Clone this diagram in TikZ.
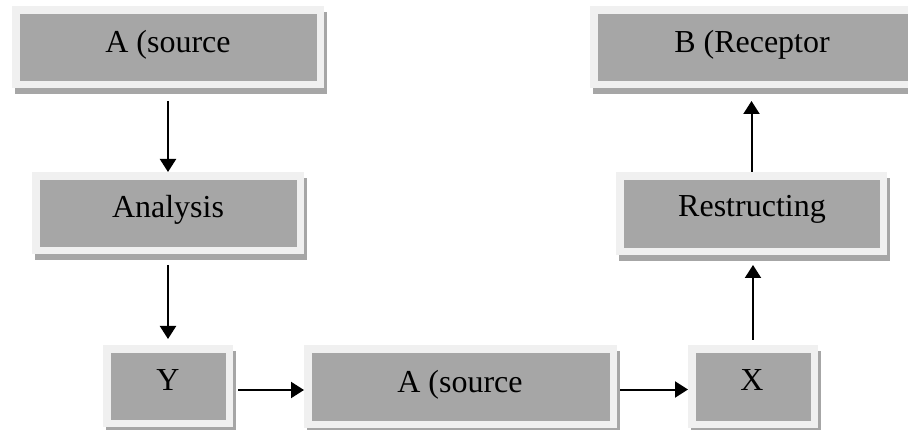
\documentclass[tikz,border=0pt]{standalone}
\usepackage{fontspec}
\setmainfont{Liberation Serif}
\usetikzlibrary{arrows.meta}
\definecolor{boxout}{HTML}{F0F0F0}
\definecolor{boxin}{HTML}{A6A6A6}
\definecolor{boxshadow}{HTML}{A6A6A6}
\tikzset{
  outerbox/.style={fill=boxout, inner sep=0pt, outer sep=0pt, draw=none},
  lbl/.style={font=\fontsize{32}{38}\selectfont, inner sep=0pt, anchor=base, text=black},
  arr/.style={-{Triangle[width=16pt,length=13pt]}, line width=2pt, black},
}
% name, x1, y1, x2, y2
\newcommand\mybox[5]{%
  \fill[boxshadow] (#2+3,#3+6) rectangle (#4+3,#5+6);
  \node[outerbox, minimum width={#4pt-#2pt}, minimum height={#5pt-#3pt}] (#1) at ({(#2+#4)/2},{(#3+#5)/2}) {};
  \fill[boxin] ([xshift=8pt,yshift=-8pt]#1.north west) rectangle ([xshift=-7pt,yshift=7pt]#1.south east);
}
\begin{document}
\begin{tikzpicture}[x=1pt,y=-1pt]
\useasboundingbox[fill=white] (0,0) rectangle (908,430);
\mybox{srcA}{12}{6}{324}{88}
\node[lbl] (srcA-t) at (168,53) {A (source};
\mybox{recB}{590}{6}{915}{88}
\node[lbl] (recB-t) at (752,53) {B (Receptor};
\mybox{ana}{32}{172}{304}{254}
\node[lbl] (ana-t) at (168,218) {Analysis};
\mybox{restr}{616}{172}{887}{255}
\node[lbl] (restr-t) at (752,217) {Restructing};
\mybox{ybox}{103}{345}{233}{427}
\node[lbl] (ybox-t) at (168,391) {Y};
\mybox{midA}{304}{345}{617}{428}
\node[lbl] (midA-t) at (460,392) {A (source};
\mybox{xbox}{688}{345}{818}{428}
\node[lbl] (xbox-t) at (752,391) {X};
% connectors
\draw[arr, shorten <=13pt] (srcA.south) -- (ana.north);
\draw[arr, shorten <=11pt, shorten >=6pt] (ana.south) -- (ybox.north);
\draw[arr, shorten <=5pt] ([yshift=-4pt]ybox.east) -- ([yshift=-4pt]ybox.east -| midA.west);
\draw[arr, shorten <=3pt] ([yshift=-3pt]midA.east) -- ([yshift=-3pt]midA.east -| xbox.west);
\draw[arr, shorten <=5pt, shorten >=10pt] (xbox.north) -- (xbox.north |- restr.south);
\draw[arr, shorten >=13pt] (restr.north) -- (restr.north |- recB.south);
\end{tikzpicture}
\end{document}
